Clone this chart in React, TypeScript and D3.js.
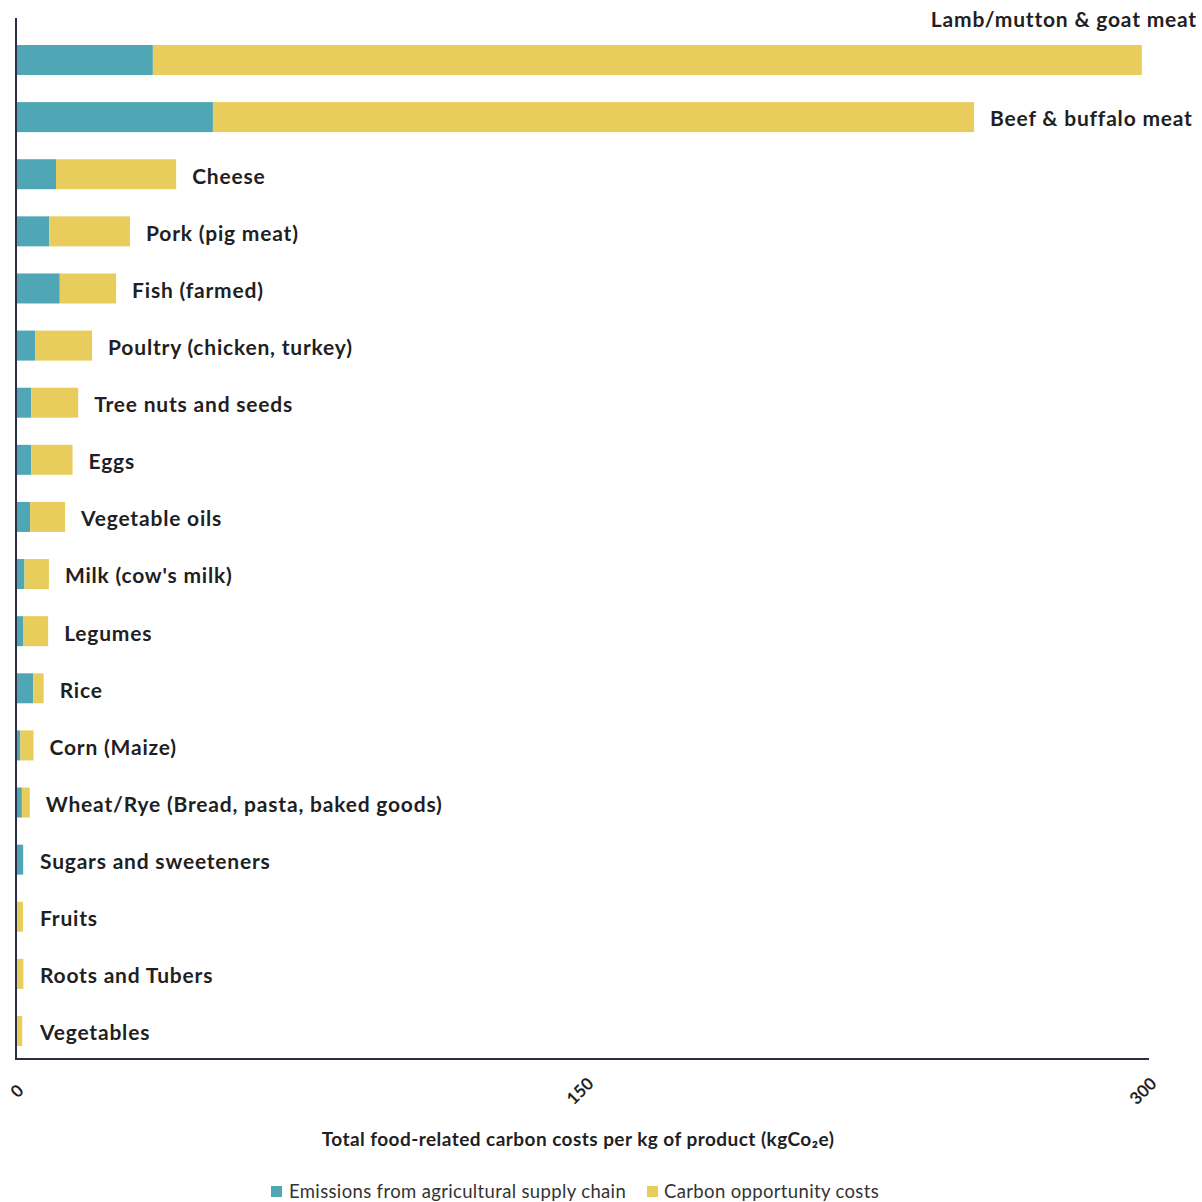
import React from "react";
import * as d3 from "d3";

const categories = [
  "Lamb/mutton & goat meat",
  "Beef & buffalo meat",
  "Cheese",
  "Pork (pig meat)",
  "Fish (farmed)",
  "Poultry (chicken, turkey)",
  "Tree nuts and seeds",
  "Eggs",
  "Vegetable oils",
  "Milk (cow's milk)",
  "Legumes",
  "Rice",
  "Corn (Maize)",
  "Wheat/Rye (Bread, pasta, baked goods)",
  "Sugars and sweeteners",
  "Fruits",
  "Roots and Tubers",
  "Vegetables",
];
const emissions = [36.2, 52.2, 10.4, 8.6, 11.4, 4.9, 3.8, 3.8, 3.5, 2.0, 1.6, 4.3, 0.9, 1.3, 1.6, 0.1, 0.1, 0.1];
const opportunity = [263.5, 202.8, 32.0, 21.5, 15.0, 15.1, 12.5, 11.0, 9.3, 6.5, 6.7, 2.8, 3.5, 2.1, 0.1, 1.5, 1.6, 1.3];
const xTicks = [0, 150, 300];
const seriesNames = ["Emissions from agricultural supply chain", "Carbon opportunity costs"];
const axisTitle = "Total food-related carbon costs per kg of product (kgCo\u2082e)";

const TEAL = "#4fa6b5";
const YELLOW = "#e9cd5c";
const INK = "#1f1f24";
const AXIS = "#2c2e45";
const FONT = "Lato, 'Open Sans', sans-serif";

export default function App() {
  const x = d3.scaleLinear().domain([0, 300]).range([17, 1143]);
  const y = d3.scalePoint<string>().domain(categories).range([60, 1031]);
  const barH = 30;

  return (
    <div style={{ position: "absolute", left: 0, top: 0 }}>
      <svg width={1202} height={1202} style={{ display: "block", background: "#fff" }}>
        {categories.map((c, i) => {
          const cy = y(c)!;
          const e = emissions[i];
          const o = opportunity[i];
          const total = e + o;
          let label;
          if (i === 0) {
            label = (
              <text x={1197} y={20} dy="0.35em" textAnchor="end" fontSize={21} letterSpacing={0.8} fontWeight={700} fill={INK} fontFamily={FONT}>
                {c}
              </text>
            );
          } else {
            const lx = Math.max(x(total) + 16, 40);
            label = (
              <text x={lx} y={cy + 2} dy="0.35em" fontSize={21} letterSpacing={0.8} fontWeight={700} fill={INK} fontFamily={FONT}>
                {c}
              </text>
            );
          }
          return (
            <g key={c}>
              <rect x={x(0)} y={cy - barH / 2} width={x(e) - x(0)} height={barH} fill={TEAL} />
              <rect x={x(e)} y={cy - barH / 2} width={x(total) - x(e)} height={barH} fill={YELLOW} />
              {label}
            </g>
          );
        })}
        <line x1={16} y1={18} x2={16} y2={1060} stroke={AXIS} strokeWidth={2} />
        <line x1={15} y1={1059} x2={1149} y2={1059} stroke={AXIS} strokeWidth={2} />
        {xTicks.map((t) => (
          <text
            key={t}
            transform={`translate(${x(t)},${1091}) rotate(-45)`}
            textAnchor="middle"
            dy="0.35em"
            fontSize={17}
            fontWeight={700}
            fill={INK}
            fontFamily={FONT}
          >
            {t}
          </text>
        ))}
        <text x={578} y={1139} dy="0.35em" textAnchor="middle" fontSize={19} letterSpacing={0.45} fontWeight={700} fill={INK} fontFamily={FONT}>
          {axisTitle}
        </text>
        <g fontFamily={FONT} fontSize={18.5} letterSpacing={0.35} fill="#333">
          <rect x={271} y={1186} width={11} height={11} fill={TEAL} />
          <text x={289} y={1192} dy="0.35em">{seriesNames[0]}</text>
          <rect x={647} y={1186} width={11} height={11} fill={YELLOW} />
          <text x={664} y={1192} dy="0.35em">{seriesNames[1]}</text>
        </g>
      </svg>
    </div>
  );
}
